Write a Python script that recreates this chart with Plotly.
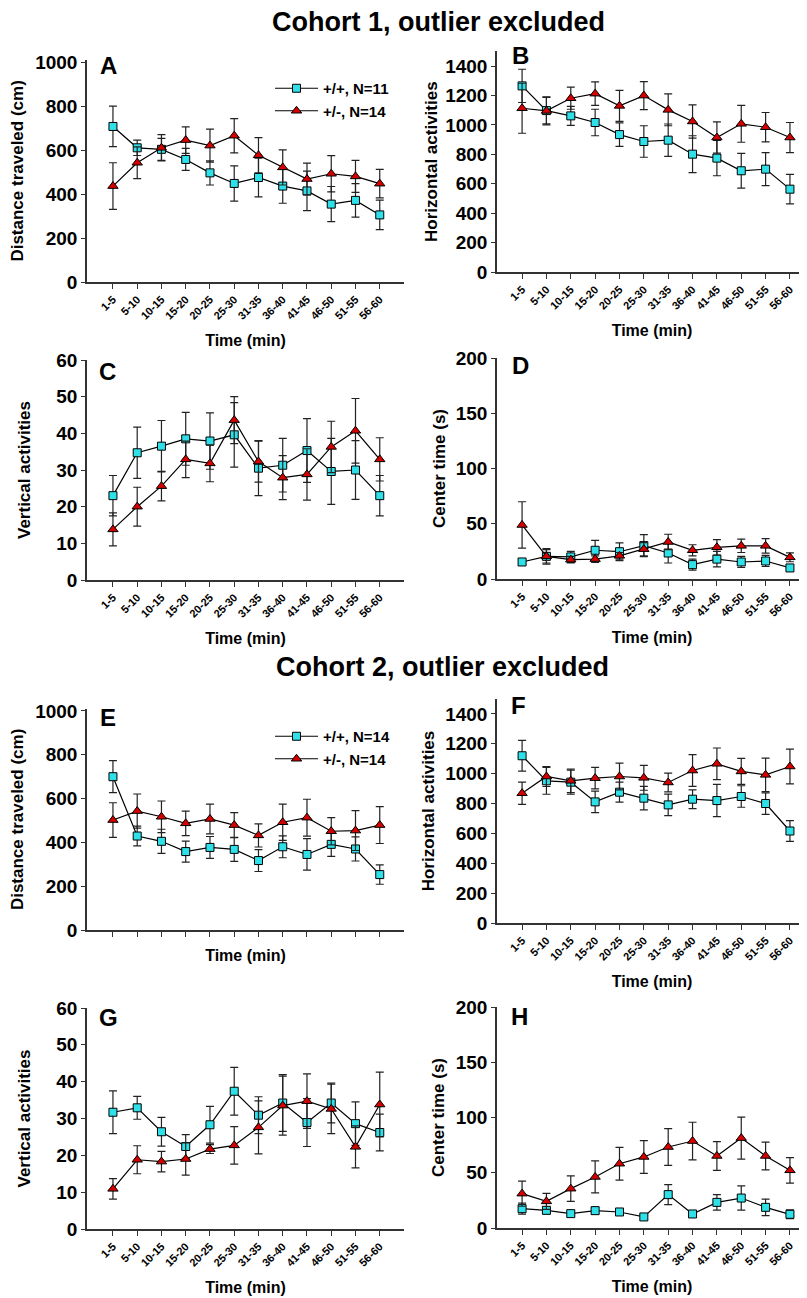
import plotly.graph_objects as go

# The page body has an 8 px margin: the figure is drawn 8 px smaller and
# all pixel positions below are given in window coordinates, shifted by OFF.
OFF = 8
W, H = 807 - OFF, 1298 - OFF

categories = ["1-5", "5-10", "10-15", "15-20", "20-25", "25-30",
              "31-35", "36-40", "41-45", "46-50", "51-55", "56-60"]

# Panel A - Cohort 1, distance traveled (cm)
a_wt = [707, 610, 603, 557, 496, 448, 475, 436, 414, 354, 371, 305]
a_wt_err = [92, 35, 50, 50, 55, 80, 88, 78, 90, 80, 76, 67]
a_het = [436, 542, 610, 645, 620, 665, 576, 521, 468, 492, 480, 447]
a_het_err = [106, 72, 60, 60, 75, 78, 80, 80, 72, 82, 73, 65]

# Panel B - Cohort 1, horizontal activities
b_wt = [1265, 1097, 1061, 1016, 934, 887, 896, 801, 774, 688, 699, 563]
b_wt_err = [113, 90, 65, 90, 80, 107, 110, 125, 120, 118, 112, 100]
b_het = [1113, 1095, 1181, 1212, 1129, 1199, 1102, 1023, 914, 1007, 984, 914]
b_het_err = [170, 95, 75, 80, 105, 95, 108, 113, 106, 125, 100, 102]

# Panel C - Cohort 1, vertical activities
c_wt = [23.0, 34.7, 36.5, 38.5, 37.9, 39.6, 30.5, 31.3, 35.3, 29.6, 30.0, 23.0]
c_wt_err = [5.5, 7.0, 7.0, 7.2, 7.7, 8.8, 7.5, 7.3, 8.7, 9.0, 8.0, 5.5]
c_het = [13.8, 20.0, 25.6, 32.9, 31.8, 43.6, 32.3, 27.9, 28.8, 36.3, 40.7, 32.9]
c_het_err = [4.5, 5.3, 4.0, 5.0, 5.0, 6.4, 5.6, 6.0, 7.0, 7.0, 8.8, 5.9]

# Panel D - Cohort 1, center time (s)
d_wt = [15.4, 20.5, 20.0, 26.0, 24.7, 30.2, 23.5, 13.0, 18.0, 15.4, 16.3, 10.0]
d_wt_err = [2, 7, 5, 9, 8, 10, 9, 5, 7, 5, 5, 3]
d_het = [48.9, 20.5, 17.5, 18.0, 21.0, 27.0, 33.5, 26.0, 28.7, 30.0, 30.0, 19.6]
d_het_err = [21, 6, 3, 3, 3, 6, 7, 5, 7, 6, 6.5, 4]

# Panel E - Cohort 2, distance traveled (cm)
e_wt = [700, 429, 405, 358, 377, 368, 317, 380, 345, 391, 370, 253]
e_wt_err = [73, 45, 55, 48, 50, 55, 50, 50, 72, 55, 55, 44]
e_het = [502, 543, 517, 487, 507, 479, 432, 492, 513, 451, 454, 479]
e_het_err = [79, 78, 72, 56, 68, 57, 53, 83, 84, 62, 91, 84]

# Panel F - Cohort 2, horizontal activities
f_wt = [1120, 952, 943, 811, 876, 836, 791, 829, 820, 847, 800, 616]
f_wt_err = [103, 90, 80, 72, 67, 79, 72, 63, 108, 72, 72, 70]
f_het = [869, 981, 952, 970, 981, 972, 941, 1021, 1066, 1015, 992, 1048]
f_het_err = [74, 67, 78, 72, 90, 83, 63, 106, 106, 87, 112, 117]

# Panel G - Cohort 2, vertical activities
g_wt = [31.7, 32.9, 26.4, 22.4, 28.3, 37.4, 30.9, 34.2, 28.9, 34.2, 28.6, 26.2]
g_wt_err = [5.8, 3.1, 3.9, 3.2, 5.0, 6.5, 5.0, 7.7, 6.5, 5.4, 5.9, 5.0]
g_het = [10.9, 18.8, 18.3, 19.0, 21.7, 22.7, 27.6, 33.5, 34.7, 32.6, 22.3, 33.8]
g_het_err = [2.8, 3.8, 2.8, 4.4, 1.2, 5.1, 7.2, 8.0, 7.4, 6.7, 5.7, 8.8]

# Panel H - Cohort 2, center time (s)
h_wt = [17.5, 16.0, 13.0, 15.7, 14.5, 10.0, 30.2, 12.7, 23.2, 27.1, 18.7, 12.4]
h_wt_err = [5, 3, 2, 3, 2, 2, 9, 2, 7, 11, 7.5, 4]
h_het = [31.1, 24.1, 35.6, 46.2, 58.2, 64.3, 73.3, 78.7, 65.2, 81.4, 65.2, 52.2]
h_het_err = [11.4, 7.3, 11.5, 14.5, 14.8, 14.8, 16.6, 17.0, 13.0, 19.0, 12.6, 11.5]

cohort_titles = ["Cohort 1, outlier excluded", "Cohort 2, outlier excluded"]
legend_names_c1 = ["+/+, N=11", "+/-, N=14"]
legend_names_c2 = ["+/+, N=14", "+/-, N=14"]

FONT = "Liberation Sans, Arial, sans-serif"
CYAN = "#30E0E8"
RED = "#D40000"
AXC = "#333333"


def px(xp):
    return (xp - OFF) / W


def py(yp):
    return 1 - (yp - OFF) / H


LEFT = (87, 404)
RIGHT = (497, 807)
LR = [-1.07, 12.0]
RR = [-1.03, 11.7]
panels = [
    dict(letter="A", wt=a_wt, wte=a_wt_err, het=a_het, hete=a_het_err,
         ytitle="Distance traveled (cm)", yr=[0, 1010], dt=200, xd=LEFT, yd=(59.8, 282), xr=LR, so=9, xl=True,
         legend="legend", names=legend_names_c1),
    dict(letter="B", wt=b_wt, wte=b_wt_err, het=b_het, hete=b_het_err,
         ytitle="Horizontal activities", yr=[0, 1500], dt=200, xd=RIGHT, yd=(51.3, 272), xr=RR, so=3, xl=True),
    dict(letter="C", wt=c_wt, wte=c_wt_err, het=c_het, hete=c_het_err,
         ytitle="Vertical activities", yr=[0, 60], dt=10, xd=LEFT, yd=(360, 580), xr=LR, so=21, xl=True),
    dict(letter="D", wt=d_wt, wte=d_wt_err, het=d_het, hete=d_het_err,
         ytitle="Center time (s)", yr=[0, 200], dt=50, xd=RIGHT, yd=(358, 579), xr=RR, so=6, xl=True),
    dict(letter="E", wt=e_wt, wte=e_wt_err, het=e_het, hete=e_het_err,
         ytitle="Distance traveled (cm)", yr=[0, 1010], dt=200, xd=LEFT, yd=(708.8, 930), xr=LR, so=9, xl=False,
         legend="legend2", names=legend_names_c2),
    dict(letter="F", wt=f_wt, wte=f_wt_err, het=f_het, hete=f_het_err,
         ytitle="Horizontal activities", yr=[0, 1500], dt=200, xd=RIGHT, yd=(699, 923), xr=RR, so=6, xl=True),
    dict(letter="G", wt=g_wt, wte=g_wt_err, het=g_het, hete=g_het_err,
         ytitle="Vertical activities", yr=[0, 60], dt=10, xd=LEFT, yd=(1008, 1229), xr=LR, so=21, xl=True),
    dict(letter="H", wt=h_wt, wte=h_wt_err, het=h_het, hete=h_het_err,
         ytitle="Center time (s)", yr=[0, 200], dt=50, xd=RIGHT, yd=(1007, 1228), xr=RR, so=7, xl=True),
]

letter_pos = [(108, 65), (520, 55), (107, 371), (520, 365), (108, 717), (518, 705), (108, 1017), (519, 1016)]

fig = go.Figure()
layout = dict(
    width=W, height=H, margin=dict(l=0, r=0, t=0, b=0, pad=0, autoexpand=False),
    paper_bgcolor="white", plot_bgcolor="white",
    font=dict(family=FONT, color="black"),
    showlegend=True, annotations=[],
)

for i, p in enumerate(panels):
    n = i + 1
    xa = "x" if n == 1 else f"x{n}"
    ya = "y" if n == 1 else f"y{n}"
    has_leg = "legend" in p
    names = p.get("names", ["+/+", "+/-"])
    common = dict(mode="lines+markers", xaxis=xa, yaxis=ya, line=dict(color="black", width=1.2))
    fig.add_trace(go.Scatter(
        x=categories, y=p["wt"], name=names[0],
        error_y=dict(type="data", array=p["wte"], color="#222222", thickness=1.2, width=4),
        marker=dict(symbol="square", size=8, color=CYAN, line=dict(color="black", width=1)),
        showlegend=has_leg, legend=p.get("legend", "legend"), **common))
    fig.add_trace(go.Scatter(
        x=categories, y=p["het"], name=names[1],
        error_y=dict(type="data", array=p["hete"], color="#222222", thickness=1.2, width=4),
        marker=dict(symbol="triangle-up", size=9, color=RED, line=dict(color="black", width=1)),
        showlegend=has_leg, legend=p.get("legend", "legend"), **common))

    xkey = "xaxis" if n == 1 else f"xaxis{n}"
    ykey = "yaxis" if n == 1 else f"yaxis{n}"
    layout[xkey] = dict(
        domain=[px(p["xd"][0]), min(1.0, px(p["xd"][1]))], anchor=ya, automargin=False,
        type="category", categoryorder="array", categoryarray=categories,
        range=p["xr"], showline=True, linecolor=AXC, linewidth=1.5,
        ticks="outside", ticklen=5, tickwidth=1.2, tickcolor=AXC,
        tickangle=-45, showticklabels=p["xl"],
        tickfont=dict(size=11, family=FONT, weight="bold"),
        showgrid=False, zeroline=False,
        title=dict(text="Time (min)", font=dict(size=16, family=FONT, weight="bold"), standoff=14),
    )
    layout[ykey] = dict(
        domain=[py(p["yd"][1]), py(p["yd"][0])], anchor=xa, automargin=False,
        range=p["yr"], dtick=p["dt"], tick0=0,
        showline=True, linecolor=AXC, linewidth=1.5,
        ticks="outside", ticklen=4, tickwidth=1.2, tickcolor=AXC,
        tickfont=dict(size=19, family=FONT, weight="bold"),
        showgrid=False, zeroline=False,
        title=dict(text=p["ytitle"], font=dict(size=17, family=FONT, weight="bold"), standoff=p["so"]),
    )
    lx, ly = letter_pos[i]
    layout["annotations"].append(dict(
        text=p["letter"], x=px(lx), y=py(ly), xref="paper", yref="paper",
        showarrow=False, xanchor="center", yanchor="middle",
        font=dict(size=24, family=FONT, weight="bold")))

for t, (cx, cy) in zip(cohort_titles, [(438, 22), (442, 667)]):
    layout["annotations"].append(dict(
        text=t, x=px(cx), y=py(cy), xref="paper", yref="paper",
        showarrow=False, xanchor="center", yanchor="middle",
        font=dict(size=27, family=FONT, weight="bold")))

leg_common = dict(xanchor="left", yanchor="top", bgcolor="rgba(0,0,0,0)",
                  font=dict(size=15, family=FONT, weight="bold"), itemwidth=43, tracegroupgap=0,
                  borderwidth=0)
layout["legend"] = dict(x=px(270), y=py(72), **leg_common)
layout["legend2"] = dict(x=px(270), y=py(720), **leg_common)

fig.update_layout(**layout)
fig.write_html("out.html")
